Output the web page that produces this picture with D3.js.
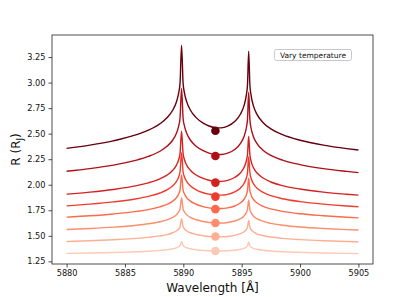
<!DOCTYPE html>
<html>
<head>
<meta charset="utf-8">
<script src="https://cdn.jsdelivr.net/npm/d3@7"></script>
<style>
html,body{margin:0;padding:0;background:#fff;}
svg{display:block;font-family:"DejaVu Sans",sans-serif;}
</style>
</head>
<body>
<svg id="chart" width="415" height="297"></svg>
<script>
// ---- data ----
const wavelength = [5880, 5882, 5884, 5886, 5887, 5888, 5888.6, 5889.1, 5889.4, 5889.6, 5889.72, 5889.85, 5889.98, 5890.1, 5890.3, 5890.6, 5891.1, 5891.7, 5892.2, 5892.73, 5893.25, 5893.8, 5894.4, 5894.9, 5895.2, 5895.4, 5895.5, 5895.6, 5895.7, 5895.8, 5896.0, 5896.3, 5896.8, 5897.5, 5898.5, 5900, 5902, 5904, 5905];

const radiusT8 = [2.356, 2.388, 2.430, 2.490, 2.534, 2.597, 2.655, 2.732, 2.808, 2.897, 2.995, 3.364, 2.995, 2.897, 2.809, 2.732, 2.657, 2.603, 2.575, 2.559, 2.557, 2.573, 2.618, 2.692, 2.775, 2.879, 2.982, 3.306, 2.982, 2.879, 2.774, 2.691, 2.612, 2.547, 2.490, 2.436, 2.388, 2.354, 2.340];
const radiusT7 = [2.132, 2.158, 2.192, 2.241, 2.277, 2.328, 2.376, 2.438, 2.501, 2.573, 2.653, 2.942, 2.653, 2.573, 2.501, 2.438, 2.377, 2.333, 2.310, 2.297, 2.296, 2.309, 2.345, 2.406, 2.473, 2.558, 2.642, 2.909, 2.642, 2.558, 2.473, 2.405, 2.341, 2.288, 2.241, 2.197, 2.158, 2.131, 2.119];
const radiusT6 = [1.908, 1.928, 1.954, 1.991, 2.019, 2.058, 2.094, 2.142, 2.190, 2.245, 2.306, 2.525, 2.306, 2.245, 2.190, 2.142, 2.095, 2.062, 2.044, 2.034, 2.033, 2.043, 2.071, 2.117, 2.169, 2.233, 2.298, 2.476, 2.298, 2.233, 2.168, 2.117, 2.068, 2.027, 1.991, 1.958, 1.928, 1.907, 1.898];
const radiusT5 = [1.793, 1.810, 1.832, 1.863, 1.886, 1.919, 1.950, 1.990, 2.030, 2.076, 2.127, 2.313, 2.127, 2.076, 2.030, 1.990, 1.950, 1.922, 1.908, 1.899, 1.898, 1.906, 1.930, 1.969, 2.012, 2.066, 2.121, 2.274, 2.121, 2.066, 2.012, 1.968, 1.927, 1.893, 1.863, 1.835, 1.810, 1.792, 1.785];
const radiusT4 = [1.683, 1.696, 1.714, 1.739, 1.757, 1.784, 1.808, 1.840, 1.872, 1.909, 1.950, 2.096, 1.950, 1.909, 1.872, 1.840, 1.809, 1.786, 1.774, 1.768, 1.767, 1.774, 1.792, 1.823, 1.858, 1.901, 1.944, 2.064, 1.944, 1.901, 1.858, 1.823, 1.790, 1.763, 1.739, 1.716, 1.697, 1.682, 1.676];
const radiusT3 = [1.562, 1.572, 1.585, 1.604, 1.618, 1.638, 1.656, 1.680, 1.705, 1.733, 1.764, 1.874, 1.764, 1.733, 1.705, 1.681, 1.657, 1.640, 1.631, 1.626, 1.625, 1.630, 1.645, 1.668, 1.694, 1.727, 1.759, 1.852, 1.759, 1.727, 1.694, 1.668, 1.643, 1.622, 1.604, 1.587, 1.572, 1.561, 1.557];
const radiusT2 = [1.445, 1.452, 1.462, 1.475, 1.485, 1.499, 1.512, 1.530, 1.547, 1.567, 1.589, 1.667, 1.589, 1.567, 1.547, 1.530, 1.513, 1.501, 1.494, 1.491, 1.490, 1.494, 1.504, 1.521, 1.539, 1.563, 1.586, 1.650, 1.586, 1.563, 1.539, 1.520, 1.503, 1.488, 1.475, 1.463, 1.452, 1.445, 1.441];
const radiusT1 = [1.328, 1.332, 1.337, 1.344, 1.349, 1.357, 1.364, 1.373, 1.382, 1.393, 1.404, 1.445, 1.404, 1.393, 1.382, 1.373, 1.364, 1.357, 1.354, 1.352, 1.352, 1.354, 1.359, 1.368, 1.378, 1.390, 1.403, 1.439, 1.403, 1.390, 1.378, 1.368, 1.359, 1.351, 1.344, 1.338, 1.332, 1.328, 1.326];

// marker values at the doublet centre
const markerWavelength = 5892.75;
const markerRadius = [2.528, 2.281, 2.021, 1.884, 1.761, 1.625, 1.494, 1.351];

const xTicks = [5880, 5885, 5890, 5895, 5900, 5905];
const yTicks = [1.25, 1.50, 1.75, 2.00, 2.25, 2.50, 2.75, 3.00, 3.25];
const legendLabel = "Vary temperature";
const xLabel = "Wavelength [Å]";

// ---- styles ----
const seriesList = [radiusT8, radiusT7, radiusT6, radiusT5, radiusT4, radiusT3, radiusT2, radiusT1];
const colors = ['#67000d', '#ad1017', '#d42221', '#ef3c2c', '#fb6b4b', '#fc8e6e', '#fcaf93', '#fdc9b4'];

// ---- layout ----
const svg = d3.select('#chart');
const L = 52, R = 373, T = 35, B = 264;

const allY = seriesList.flat().concat(markerRadius);
const yMin = d3.min(allY), yMax = d3.max(allY);
const yPad = (yMax - yMin) * 0.05;
const xMin = d3.min(wavelength), xMax = d3.max(wavelength);
const xPad = (xMax - xMin) * 0.05;

const x = d3.scaleLinear().domain([xMin - xPad, xMax + xPad]).range([L, R]);
const y = d3.scaleLinear().domain([yMin - yPad, yMax + yPad]).range([B, T]);

const plot = svg.append('g');
plot.append('clipPath').attr('id', 'clip').append('rect')
  .attr('x', L).attr('y', T).attr('width', R - L).attr('height', B - T);

const line = d3.line()
  .x((d, i) => x(wavelength[i]))
  .y(d => y(d))
  .curve(d3.curveMonotoneX);

const lines = plot.append('g').attr('clip-path', 'url(#clip)');
seriesList.forEach((s, k) => {
  lines.append('path')
    .attr('d', line(s))
    .attr('fill', 'none')
    .attr('stroke', colors[k])
    .attr('stroke-width', 1.4)
    .attr('stroke-linejoin', 'round');
});
markerRadius.forEach((v, k) => {
  lines.append('circle')
    .attr('cx', x(markerWavelength))
    .attr('cy', y(v))
    .attr('r', 4.3)
    .attr('fill', colors[k]);
});

// ---- axes ----
const xAxis = d3.axisBottom(x).tickValues(xTicks).tickFormat(d3.format('d')).tickSize(3.5).tickPadding(3);
const yAxis = d3.axisLeft(y).tickValues(yTicks).tickFormat(d3.format('.2f')).tickSize(3.5).tickPadding(3);

const gx = svg.append('g').attr('transform', `translate(0,${B})`).call(xAxis);
const gy = svg.append('g').attr('transform', `translate(${L},0)`).call(yAxis);
[gx, gy].forEach(g => {
  g.select('.domain').remove();
  g.selectAll('.tick line').attr('stroke', '#222').attr('stroke-width', 0.8);
  g.selectAll('.tick text').attr('fill', '#111').style('font-size', '8.2px').style('font-family', '"DejaVu Sans",sans-serif');
});

// frame
svg.append('rect')
  .attr('x', L).attr('y', T).attr('width', R - L).attr('height', B - T)
  .attr('fill', 'none').attr('stroke', '#222').attr('stroke-width', 0.8);

// axis labels
svg.append('text')
  .attr('x', (L + R) / 2).attr('y', 292)
  .attr('text-anchor', 'middle')
  .style('font-size', '12px')
  .attr('fill', '#111')
  .text(xLabel);

const yl = svg.append('text')
  .attr('transform', `translate(20,${(T + B) / 2}) rotate(-90)`)
  .attr('text-anchor', 'middle')
  .style('font-size', '12px')
  .attr('fill', '#111');
yl.append('tspan').text('R (R');
yl.append('tspan').attr('dy', 3).style('font-size', '8.5px').text('J');
yl.append('tspan').attr('dy', -3).text(')');

// legend box
const lg = svg.append('g');
lg.append('rect')
  .attr('x', 274.5).attr('y', 49.5).attr('width', 77).attr('height', 11)
  .attr('rx', 2).attr('ry', 2)
  .attr('fill', '#fff').attr('stroke', '#bbb').attr('stroke-width', 0.8);
lg.append('text')
  .attr('x', 313).attr('y', 58)
  .attr('text-anchor', 'middle')
  .style('font-size', '7.5px')
  .attr('fill', '#111')
  .text(legendLabel);
</script>
</body>
</html>
